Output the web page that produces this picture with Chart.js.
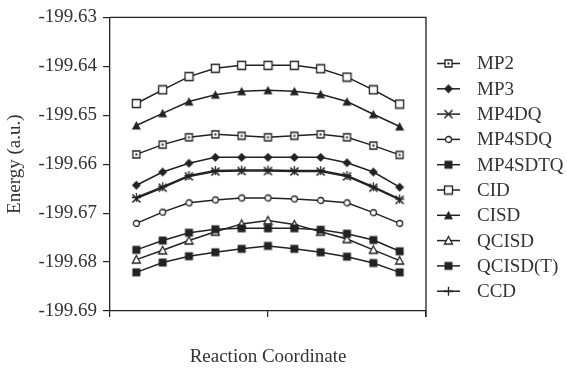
<!DOCTYPE html>
<html>
<head>
<meta charset="utf-8">
<script src="https://cdn.jsdelivr.net/npm/chart.js@4/dist/chart.umd.min.js"></script>
<style>
    html, body { margin: 0; padding: 0; background: #fff; }
</style>
</head>
<body>
<canvas id="grafico-energia" width="567" height="372"></canvas>
<script>
// passos da coordenada de reação (eixo x sem rótulos)
const passos = [0, 1, 2, 3, 4, 5, 6, 7, 8, 9, 10];
const nomes = ['MP2', 'MP3', 'MP4DQ', 'MP4SDQ', 'MP4SDTQ', 'CID', 'CISD', 'QCISD', 'QCISD(T)', 'CCD'];

const mp2 = [-199.6580, -199.6560, -199.6545, -199.6539, -199.6542, -199.6545, -199.6542, -199.6539, -199.6545, -199.6562, -199.6581];
const mp3 = [-199.6643, -199.6616, -199.6598, -199.6586, -199.6586, -199.6586, -199.6586, -199.6586, -199.6597, -199.6616, -199.6647];
const mp4dq = [-199.6670, -199.6648, -199.6625, -199.6615, -199.6614, -199.6614, -199.6615, -199.6615, -199.6625, -199.6648, -199.6673];
const mp4sdq = [-199.6721, -199.6698, -199.6679, -199.6673, -199.6669, -199.6669, -199.6671, -199.6674, -199.6679, -199.6699, -199.6721];
const mp4sdtq = [-199.6775, -199.6756, -199.6740, -199.6733, -199.6731, -199.6731, -199.6731, -199.6734, -199.6742, -199.6755, -199.6778];
const cid = [-199.6476, -199.6448, -199.6421, -199.6404, -199.6398, -199.6398, -199.6398, -199.6405, -199.6422, -199.6448, -199.6477];
const cisd = [-199.6521, -199.6496, -199.6472, -199.6458, -199.6451, -199.6449, -199.6451, -199.6457, -199.6472, -199.6498, -199.6523];
const qcisd = [-199.6795, -199.6776, -199.6756, -199.6738, -199.6722, -199.6715, -199.6723, -199.6738, -199.6753, -199.6775, -199.6797];
const qcisdT = [-199.6821, -199.6801, -199.6788, -199.6780, -199.6773, -199.6767, -199.6773, -199.6780, -199.6789, -199.6802, -199.6821];
const ccd = [-199.6668, -199.6646, -199.6623, -199.6613, -199.6612, -199.6612, -199.6613, -199.6613, -199.6623, -199.6646, -199.6671];

const ticksMaiores = [-199.63, -199.64, -199.65, -199.66, -199.67, -199.68, -199.69];
const ticksMenores = [-199.635, -199.645, -199.655, -199.665, -199.675, -199.685];
const ticksX = [-1, 5, 11];

const COR = '#222';
const FONTE = '"Liberation Serif", "Times New Roman", serif';

// desenha cada marcador num canvas pequeno, usado como pointStyle
function marcador(tipo) {
    const c = document.createElement('canvas');
    c.width = 11;
    c.height = 11;
    const g = c.getContext('2d');
    g.strokeStyle = COR;
    g.fillStyle = COR;
    g.lineWidth = 1.3;
    g.beginPath();
    if (tipo === 'quadrado') {
        g.fillStyle = '#fff';
        g.rect(1.5, 1.5, 8, 8);
        g.fill(); g.stroke();
    } else if (tipo === 'quadradoPonto') {
        g.fillStyle = '#fff';
        g.rect(2, 2, 7, 7);
        g.fill(); g.stroke();
        g.fillStyle = COR;
        g.fillRect(4.5, 4.5, 2, 2);
    } else if (tipo === 'quadradoCheio') {
        g.fillRect(1.5, 1.5, 8, 8);
    } else if (tipo === 'losango') {
        g.moveTo(5.5, 1); g.lineTo(10, 5.5); g.lineTo(5.5, 10); g.lineTo(1, 5.5);
        g.closePath(); g.fill();
    } else if (tipo === 'xis') {
        g.lineWidth = 1.6;
        g.moveTo(1.5, 1.5); g.lineTo(9.5, 9.5);
        g.moveTo(1.5, 9.5); g.lineTo(9.5, 1.5);
        g.stroke();
    } else if (tipo === 'circulo') {
        g.fillStyle = '#fff';
        g.arc(5.5, 5.5, 3, 0, Math.PI * 2);
        g.fill(); g.stroke();
    } else if (tipo === 'trianguloCheio') {
        g.moveTo(5.5, 1); g.lineTo(10, 9.5); g.lineTo(1, 9.5);
        g.closePath(); g.fill();
    } else if (tipo === 'triangulo') {
        g.fillStyle = '#fff';
        g.moveTo(5.5, 1.5); g.lineTo(9.5, 9); g.lineTo(1.5, 9);
        g.closePath(); g.fill(); g.stroke();
    } else if (tipo === 'mais') {
        g.moveTo(5.5, 1); g.lineTo(5.5, 10);
        g.moveTo(1, 5.5); g.lineTo(10, 5.5);
        g.stroke();
    }
    return c;
}

function serie(nome, valores, tipo) {
    return {
        label: nome,
        data: passos.map((x, i) => ({ x: x, y: valores[i] })),
        borderColor: COR,
        borderWidth: 1.5,
        pointStyle: marcador(tipo),
        pointRadius: 5,
        pointHoverRadius: 5,
        tension: 0,
        fill: false
    };
}

const datasets = [
    serie(nomes[0], mp2, 'quadradoPonto'),
    serie(nomes[1], mp3, 'losango'),
    serie(nomes[2], mp4dq, 'xis'),
    serie(nomes[3], mp4sdq, 'circulo'),
    serie(nomes[4], mp4sdtq, 'quadradoCheio'),
    serie(nomes[5], cid, 'quadrado'),
    serie(nomes[6], cisd, 'trianguloCheio'),
    serie(nomes[7], qcisd, 'triangulo'),
    serie(nomes[8], qcisdT, 'quadradoCheio'),
    serie(nomes[9], ccd, 'mais')
];

// moldura: linha de cima e da direita
const moldura = {
    id: 'moldura',
    afterDraw(chart) {
        const { ctx, chartArea: a } = chart;
        ctx.save();
        ctx.strokeStyle = COR;
        ctx.lineWidth = 1.3;
        ctx.beginPath();
        ctx.moveTo(a.left, a.top);
        ctx.lineTo(a.right, a.top);
        ctx.lineTo(a.right, a.bottom + 6);
        ctx.stroke();
        ctx.restore();
    }
};

// legenda com linha + marcador
const legenda = {
    id: 'legenda',
    afterDraw(chart) {
        const ctx = chart.ctx;
        ctx.save();
        ctx.font = '19px ' + FONTE;
        ctx.textBaseline = 'middle';
        chart.data.datasets.forEach((ds, i) => {
            const y = 63.5 + i * 25.3;
            ctx.strokeStyle = COR;
            ctx.lineWidth = 1.5;
            ctx.beginPath();
            ctx.moveTo(437, y);
            ctx.lineTo(460, y);
            ctx.stroke();
            ctx.drawImage(ds.pointStyle, 448.5 - 5.5, y - 5.5);
            ctx.fillStyle = '#333';
            ctx.fillText(ds.label, 477, y + 1);
        });
        ctx.restore();
    }
};

new Chart(document.getElementById('grafico-energia'), {
    type: 'line',
    data: { datasets: datasets },
    plugins: [moldura, legenda],
    options: {
        responsive: false,
        devicePixelRatio: 1,
        animation: false,
        layout: { padding: { top: 15, right: 141, left: 0, bottom: 0 } },
        plugins: { legend: { display: false }, tooltip: { enabled: false } },
        scales: {
            x: {
                type: 'linear',
                min: -1,
                max: 11,
                afterBuildTicks: (scale) => { scale.ticks = ticksX.map(v => ({ value: v })); },
                afterFit: (scale) => { scale.height = 61; },
                ticks: { display: false },
                grid: { drawOnChartArea: false, drawTicks: true, tickLength: 6, color: COR, lineWidth: 1.2 },
                border: { color: COR, width: 1.3 },
                title: {
                    display: true,
                    text: 'Reaction Coordinate',
                    color: '#333',
                    font: { family: FONTE, size: 19 },
                    padding: { top: 4, bottom: 4 }
                }
            },
            y: {
                min: -199.69,
                max: -199.63,
                afterBuildTicks: (scale) => {
                    scale.ticks = ticksMaiores.concat(ticksMenores).sort((a, b) => a - b).map(v => ({ value: v }));
                },
                afterFit: (scale) => { scale.width = 110; },
                ticks: {
                    color: '#333',
                    padding: 6,
                    font: { family: FONTE, size: 19 },
                    callback: (v) => ticksMaiores.some(m => Math.abs(m - v) < 1e-6) ? v.toFixed(2) : ''
                },
                grid: { drawOnChartArea: false, drawTicks: true, tickLength: 7, color: COR, lineWidth: 1.2 },
                border: { color: COR, width: 1.3 },
                title: {
                    display: true,
                    text: 'Energy (a.u.)',
                    color: '#333',
                    font: { family: FONTE, size: 19 },
                    padding: { top: 4, bottom: 4 }
                }
            }
        }
    }
});
</script>
</body>
</html>
